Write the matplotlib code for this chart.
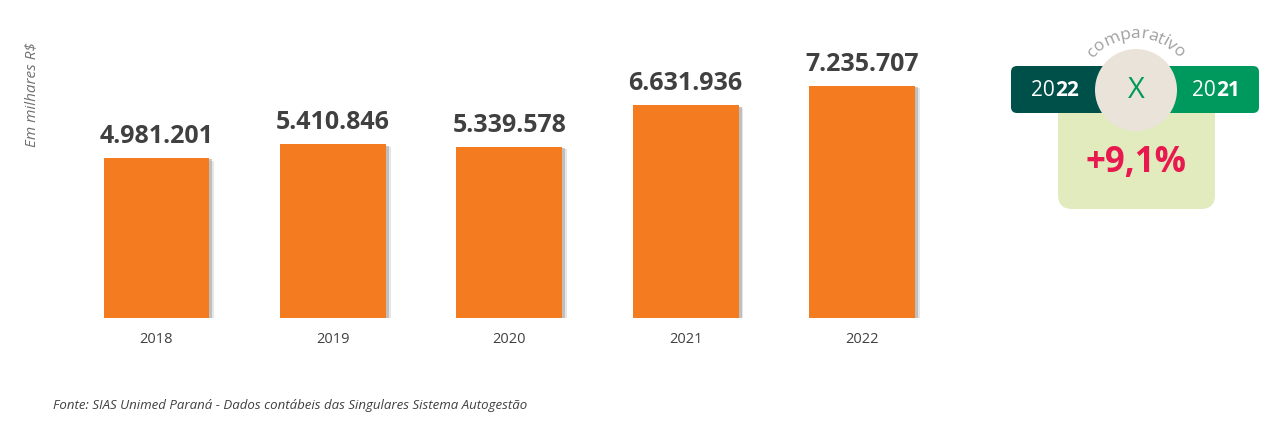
import numpy as np
import matplotlib

matplotlib.use("Agg")
import matplotlib.pyplot as plt
import matplotlib.patheffects as pe
from matplotlib.patches import FancyBboxPatch, Circle

plt.rcParams["font.family"] = ["Open Sans", "DejaVu Sans"]

# data (em milhares R$)
years = ["2018", "2019", "2020", "2021", "2022"]
values = [4981201, 5410846, 5339578, 6631936, 7235707]
value_labels = ["4.981.201", "5.410.846", "5.339.578", "6.631.936", "7.235.707"]
comp_left = ("20", "22")
comp_right = ("20", "21")
comp_change = "+9,1%"

ORANGE = "#F47B20"
TEXT = "#404040"

W, H = 1279, 426
fig = plt.figure(figsize=(W / 100, H / 100), dpi=100)

# main bar axes, placed in pixel terms
left_px, right_px, bottom_px, top_px = 60, 960, 318, 20
ax = fig.add_axes([left_px / W, 1 - bottom_px / H,
                   (right_px - left_px) / W, (bottom_px - top_px) / H])
x = np.arange(len(years))
step = 176.4
ax.set_xlim(-(156.5 - left_px) / step, 4 + (right_px - 862) / step)
ax.set_ylim(0, (bottom_px - top_px) / 32.1 * 1e6)

shadow = [pe.SimplePatchShadow(offset=(3.4, -1.8), shadow_rgbFace="#cfcfcf", alpha=0.5),
          pe.SimplePatchShadow(offset=(2.2, -1.0), shadow_rgbFace="#a5a5a5", alpha=0.6),
          pe.Normal()]
bars = ax.bar(x, values, width=0.6, color=ORANGE, zorder=2)
for b in bars:
    b.set_path_effects(shadow)

for xi, v, lab in zip(x, values, value_labels):
    ax.annotate(lab, (xi, v), xytext=(0, 6.5), textcoords="offset points",
                ha="center", va="bottom", fontsize=18, fontweight="bold",
                color=TEXT)

ax.set_xticks(x)
ax.set_xticklabels(years, fontsize=10.5, color=TEXT)
ax.tick_params(axis="x", length=0, pad=10)
ax.set_yticks([])
for s in ax.spines.values():
    s.set_visible(False)

fig.text(32 / W, 1 - 95 / H, "Em milhares R$", rotation=90, ha="center",
         va="center", fontsize=11, style="italic", color="#707070")
fig.text(53 / W, 1 - 406 / H,
         "Fonte: SIAS Unimed Paraná - Dados contábeis das Singulares Sistema Autogestão",
         ha="left", va="center", fontsize=9.5, style="italic", color=TEXT)

# comparison badge, overlay axes in pixel coordinates
ov = fig.add_axes([0, 0, 1, 1])
ov.set_xlim(0, W)
ov.set_ylim(H, 0)
ov.axis("off")

ov.add_patch(FancyBboxPatch((1058, 100), 157, 109,
                            boxstyle="round,pad=0,rounding_size=14",
                            fc="#E1EBBD", ec="none"))
ov.add_patch(FancyBboxPatch((1011, 66), 130, 47,
                            boxstyle="round,pad=0,rounding_size=6",
                            fc="#00504A", ec="none"))
ov.add_patch(FancyBboxPatch((1132, 66), 127, 47,
                            boxstyle="round,pad=0,rounding_size=6",
                            fc="#00995D", ec="none"))
ov.add_patch(Circle((1136, 90), 41, fc="#EAE3DA", ec="none"))

for cxp, (a, b) in [(1054, comp_left), (1215, comp_right)]:
    ov.text(cxp + 1, 91, a, ha="right", va="center", fontsize=15,
            color="white")
    ov.text(cxp + 1, 91, b, ha="left", va="center", fontsize=15,
            fontweight="bold", color="white")
ov.text(1136, 91, "X", ha="center", va="center", fontsize=21,
        color="#00995D")
ov.text(1136, 163, comp_change, ha="center", va="center", fontsize=25,
        fontweight="bold", color="#E8194F")

# curved "comparativo", letters spaced by their own widths
word = "comparativo"
cx, cy, r = 1136, 94, 56
fig.canvas.draw()
rend = fig.canvas.get_renderer()
widths = []
for ch in word:
    t = ov.text(0, 0, ch, fontsize=12.5)
    widths.append(t.get_window_extent(rend).width)
    t.remove()
widths = np.array(widths) * 0.97
total = widths.sum()
pos = np.cumsum(widths) - widths / 2 - total / 2
for ch, s in zip(word, pos):
    a = 90 - np.rad2deg(s / r)
    t = np.deg2rad(a)
    ov.text(cx + r * np.cos(t), cy - r * np.sin(t), ch, rotation=a - 90,
            rotation_mode="anchor", ha="center", va="baseline",
            fontsize=12.5, color="#A0A0A0")

fig.savefig("out.png", dpi=100)
